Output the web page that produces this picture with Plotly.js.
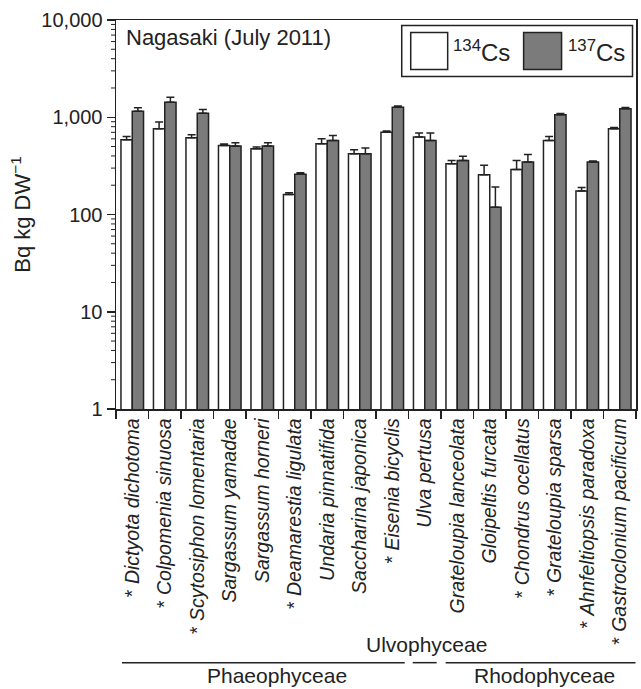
<!DOCTYPE html>
<html>
<head>
<meta charset="utf-8">
<script src="https://cdn.plot.ly/plotly-3.0.1.min.js"></script>
<style>html,body{margin:0;padding:0;background:#fff;}#chart{width:641px;height:689px;}</style>
</head>
<body>
<div id="chart"></div>
<script>
// ---- data ----
const species = ["Dictyota dichotoma","Colpomenia sinuosa","Scytosiphon lomentaria","Sargassum yamadae",
  "Sargassum horneri","Deamarestia ligulata","Undaria pinnatifida","Saccharina japonica","Eisenia bicyclis",
  "Ulva pertusa","Grateloupia lanceolata","Gloipeltis furcata","Chondrus ocellatus","Grateloupia sparsa",
  "Ahnfeltiopsis paradoxa","Gastroclonium pacificum"];
const starred = [true,true,true,false,false,true,false,false,true,false,false,false,true,true,true,true];
const cs134 = [587,762,616,513,475,161,535,422,703,625,333,257,291,578,174,762];
const cs134Err = [48,129,45,17,20,6,66,42,17,62,27,63,69,57,15,24];
const cs137 = [1155,1429,1102,505,505,259,578,422,1270,578,360,119,346,1061,346,1223];
const cs137Err = [98,179,100,42,42,9,73,60,38,109,36,73,69,34,9,38];
const groups = ["Phaeophyceae","Ulvophyceae","Rhodophyceae"];
const decades = [1,10,100,1000];
const minorDigits = [2,3,4,5,6,7,8,9];
const yRangeLog = [0,4];

// ---- layout geometry ----
const W = 641, H = 689;
const L = 116, R = 636.5, T = 19.5, B = 409;
const px = x => (x - L) / (R - L);
const py = y => (B - y) / (B - T);
const FONT = "Liberation Sans, Arial, sans-serif";
const INK = "#222";
const GRAY = "#7b7b7b";

const tickText = species.map((s,i) => (starred[i] ? "* " : "") + "<i>" + s + "</i>");
const zeros = species.map(() => 0);

const traces = [
  {type:"bar", name:"134Cs", x:species, y:cs134,
   marker:{color:"#ffffff", line:{color:INK, width:1.5}},
   error_y:{type:"data", array:cs134Err, arrayminus:zeros, symmetric:false, color:INK, thickness:1.5, width:4}},
  {type:"bar", name:"137Cs", x:species, y:cs137,
   marker:{color:GRAY, line:{color:INK, width:1.5}},
   error_y:{type:"data", array:cs137Err, arrayminus:zeros, symmetric:false, color:INK, thickness:1.5, width:4}}
];

const lineStyle = {color:INK, width:1.5};
const shapes = [
  {type:"rect", xref:"paper", yref:"paper", x0:px(402), x1:px(633), y0:py(25), y1:py(76), line:lineStyle, fillcolor:"#fff"},
  {type:"rect", xref:"paper", yref:"paper", x0:px(411), x1:px(448), y0:py(32), y1:py(69), line:lineStyle, fillcolor:"#ffffff"},
  {type:"rect", xref:"paper", yref:"paper", x0:px(524), x1:px(562), y0:py(32), y1:py(69), line:lineStyle, fillcolor:GRAY},
  {type:"line", xref:"paper", yref:"paper", x0:px(122), x1:px(405), y0:py(663), y1:py(663), line:lineStyle},
  {type:"line", xref:"paper", yref:"paper", x0:px(413), x1:px(437), y0:py(663), y1:py(663), line:lineStyle},
  {type:"line", xref:"paper", yref:"paper", x0:px(446), x1:px(636), y0:py(663), y1:py(663), line:lineStyle}
];
// minor log ticks on the y axis (axis furniture, placed on the log scale)
decades.forEach(d => minorDigits.forEach(m => {
  const yp = (Math.log10(d*m) - yRangeLog[0]) / (yRangeLog[1] - yRangeLog[0]);
  shapes.push({type:"line", xref:"paper", yref:"paper", x0:px(L-5), x1:px(L), y0:yp, y1:yp,
    line:{color:INK, width:1}});
}));

const ann = (text, x, y, size, xanchor) => ({text, xref:"paper", yref:"paper", x:px(x), y:py(y),
  xanchor:xanchor||"center", yanchor:"middle", showarrow:false, font:{family:FONT, size:size, color:INK}});

const annotations = [
  ann("Nagasaki (July 2011)", 124, 37, 22, "left"),
  ann("<sup>134</sup>Cs", 451, 51, 24, "left"),
  ann("<sup>137</sup>Cs", 566, 51, 24, "left"),
  ann(groups[0], 277, 676, 21),
  ann(groups[1], 427, 645, 21),
  ann(groups[2], 545, 676, 21)
];

const layout = {
  width:W, height:H,
  margin:{l:L, r:W-R, t:T, b:H-B, pad:0},
  paper_bgcolor:"#fff", plot_bgcolor:"#fff",
  showlegend:false,
  barmode:"group", bargap:0.305, bargroupgap:0,
  font:{family:FONT, color:INK},
  xaxis:{type:"category", range:[-0.5, species.length-0.5], tickmode:"array", tickvals:species, ticktext:tickText,
    tickson:"boundaries", ticks:"outside", ticklen:8, tickwidth:1.5, tickcolor:INK,
    showline:true, linecolor:INK, linewidth:1.5, mirror:true, showgrid:false, zeroline:false,
    tickangle:-90, tickfont:{family:FONT, size:19.5, color:INK}},
  yaxis:{type:"log", range:yRangeLog, tickmode:"linear", tick0:0, dtick:1, tickformat:",",
    ticks:"outside", ticklen:8, tickwidth:1.5, tickcolor:INK,
    showline:true, linecolor:INK, linewidth:1.5, mirror:true, showgrid:false, zeroline:false,
    tickfont:{family:FONT, size:20, color:INK},
    title:{text:"Bq kg DW<sup>−1</sup>", font:{family:FONT, size:22, color:INK}, standoff:4}},
  shapes, annotations
};

Plotly.newPlot("chart", traces, layout, {displayModeBar:false, staticPlot:true});
</script>
</body>
</html>
